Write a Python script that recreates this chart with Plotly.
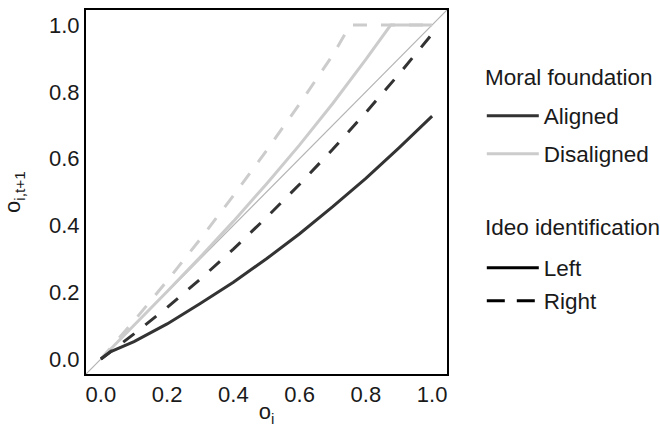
import plotly.graph_objects as go

# ---- data ----
aligned_left_x = [0.0, 0.03, 0.1, 0.2, 0.3, 0.4, 0.5, 0.6, 0.7, 0.8, 0.9, 1.0]
aligned_left_y = [0.0, 0.022, 0.052, 0.105, 0.166, 0.230, 0.300, 0.375, 0.456, 0.541, 0.632, 0.727]

aligned_right_x = [0.0, 0.1, 0.2, 0.3, 0.4, 0.5, 0.6, 0.7, 0.8, 0.9, 1.0]
aligned_right_y = [0.0, 0.075, 0.154, 0.239, 0.329, 0.424, 0.523, 0.628, 0.738, 0.853, 0.973]

dis_left_x = [0.0, 0.1, 0.2, 0.3, 0.4, 0.5, 0.6, 0.7, 0.8, 0.875, 0.9, 1.0]
dis_left_y = [0.0, 0.100, 0.202, 0.305, 0.412, 0.524, 0.641, 0.765, 0.897, 1.0, 1.0, 1.0]

dis_right_x = [0.0, 0.1, 0.2, 0.3, 0.4, 0.5, 0.6, 0.7, 0.753, 0.8, 0.9, 1.0]
dis_right_y = [0.0, 0.114, 0.234, 0.359, 0.489, 0.624, 0.764, 0.910, 1.0, 1.0, 1.0, 1.0]

identity = [-0.1, 1.1]

tick_vals = [0.0, 0.2, 0.4, 0.6, 0.8, 1.0]
tick_text = ["0.0", "0.2", "0.4", "0.6", "0.8", "1.0"]

DARK = "#333333"
LIGHT = "#cccccc"
FONT = "Liberation Sans"
TXT = "#1a1a1a"
DASH = "14px,14px"

fig = go.Figure()

fig.add_trace(go.Scatter(x=identity, y=identity, mode="lines",
                         line=dict(color="#b3b3b3", width=1.2), showlegend=False, hoverinfo="skip"))
fig.add_trace(go.Scatter(x=dis_left_x, y=dis_left_y, mode="lines",
                         line=dict(color=LIGHT, width=3), showlegend=False))
fig.add_trace(go.Scatter(x=dis_right_x, y=dis_right_y, mode="lines",
                         line=dict(color=LIGHT, width=3, dash=DASH), showlegend=False))
fig.add_trace(go.Scatter(x=aligned_right_x, y=aligned_right_y, mode="lines",
                         line=dict(color=DARK, width=3, dash=DASH), showlegend=False))
fig.add_trace(go.Scatter(x=aligned_left_x, y=aligned_left_y, mode="lines",
                         line=dict(color=DARK, width=3), showlegend=False))

# legend entries (one small legend per entry so spacing matches)
entries = [
    ("Aligned", DARK, "solid", "legend"),
    ("Disaligned", LIGHT, "solid", "legend2"),
    ("Left", "black", "solid", "legend3"),
    ("Right", "black", "18px,12px", "legend4"),
]
for name, col, dash, lg in entries:
    fig.add_trace(go.Scatter(x=[None], y=[None], mode="lines", name=name,
                             line=dict(color=col, width=3, dash=dash), legend=lg))

axis_common = dict(range=[-0.045, 1.045], tickvals=tick_vals, ticktext=tick_text,
                   showgrid=False, zeroline=False, showline=True, mirror=True,
                   linecolor="black", linewidth=2, ticks="", automargin=True,
                   tickfont=dict(family=FONT, size=22, color=TXT))

H = 427.0
LX = 0.730


def leg(yc):
    return dict(xref="container", yref="container", x=LX, y=1 - yc / H,
                xanchor="left", yanchor="middle", itemwidth=52,
                font=dict(family=FONT, size=22.5, color=TXT), bgcolor="rgba(0,0,0,0)")


fig.update_layout(
    width=660, height=427,
    margin=dict(l=86, r=213, t=10, b=53, autoexpand=False),
    paper_bgcolor="white", plot_bgcolor="white",
    font=dict(family=FONT, size=22, color=TXT),
    xaxis=dict(axis_common, ticklen=0,
               title=dict(text="o<sub>i</sub>", standoff=9,
                          font=dict(family=FONT, size=22, color=TXT))),
    yaxis=dict(axis_common, title=dict(text="o<sub>i,t+1</sub>", standoff=22,
                                        font=dict(family=FONT, size=22, color=TXT))),
    legend=leg(116), legend2=leg(154), legend3=leg(268), legend4=leg(301),
    annotations=[
        dict(text="Moral foundation", xref="paper", yref="paper",
             x=(483 - 86) / 361.0, y=(374 - 77) / 364.0, xanchor="left", yanchor="middle",
             showarrow=False, font=dict(family=FONT, size=22.5, color=TXT)),
        dict(text="Ideo identification", xref="paper", yref="paper",
             x=(483 - 86) / 361.0, y=(374 - 227) / 364.0, xanchor="left", yanchor="middle",
             showarrow=False, font=dict(family=FONT, size=22.5, color=TXT)),
    ],
)

fig.write_html("out.html")
